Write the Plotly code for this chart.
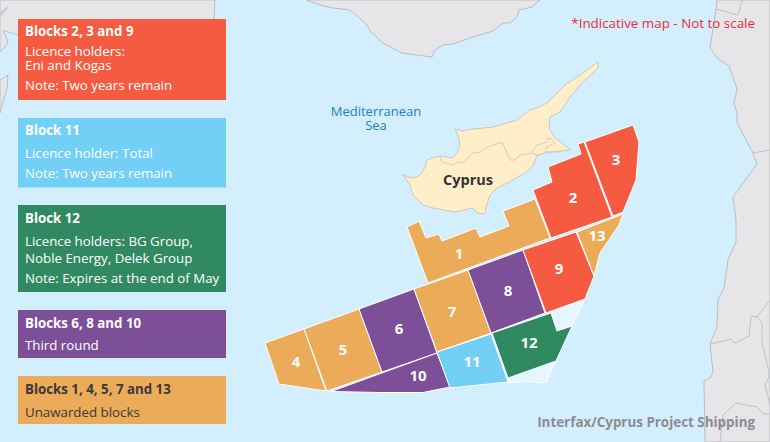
import plotly.graph_objects as go

# map outlines (x, y in image pixels)
land_turkey = [(306, 0), (320, 5), (333, 8), (350, 10), (358, 17), (367, 25), (370, 31), (383, 43), (402, 53),
               (432, 57), (435, 50), (443, 45), (453, 44), (473, 37), (493, 31), (503, 23), (510, 23), (517, 17),
               (519, 10), (532, 7), (540, 0)]
land_west = [(0, 0), (215, 0), (214, 19), (214, 30), (18, 35), (8, 32), (3.5, 30.5), (8, 42), (5, 47), (0, 52)]
land_west_small = [(0, 80), (8, 75), (7, 88), (4, 98), (0, 113)]
inlet_west = [(0, 13), (7.5, 7.5), (3, 13), (0, 16)]
land_east = [(717, 0), (716, 9), (710, 48), (718, 59), (729, 66), (737, 89), (734, 103), (737, 113), (737, 123),
             (753, 153), (757, 164), (733, 197), (736, 220), (736, 242), (728, 260), (724, 288), (718, 299),
             (717, 327), (710, 344), (713, 372), (711, 377), (704, 381), (705, 442), (770, 442), (770, 0)]
borders_east = [
    [(716, 9), (738, 15), (742, 0)],
    [(753, 153), (770, 150)],
    [(711, 344), (731, 339), (735, 343), (749, 336), (751, 316), (757, 317), (770, 300)],
    [(757, 317), (762, 323), (762, 343), (768, 367), (769, 377), (765, 385), (770, 405)],
    [(720, 442), (723, 415), (736, 403), (757, 407), (763, 414), (770, 414)],
]
cyprus = [(403, 174), (410, 178), (417, 177), (422, 173), (425, 167), (427, 160), (435, 157), (442, 156), (452, 158),
          (457, 153), (460, 145), (459, 138), (455, 129), (463, 131), (473, 129), (493, 127), (517, 120), (530, 110),
          (537, 108), (547, 103), (557, 93), (565, 85), (580, 75), (587, 70), (598, 62), (598, 68), (580, 85),
          (570, 97), (560, 112), (550, 117), (549, 128), (555, 138), (571, 150), (550, 152), (537, 155), (533, 166),
          (526, 172), (513, 180), (497, 188), (490, 195), (486, 207), (485, 214), (477, 213), (473, 208), (455, 212),
          (433, 208), (423, 205), (413, 195), (410, 185)]
cyprus_line = [(440, 157), (442, 162), (453, 165), (458, 162), (462, 163), (473, 153), (480, 152), (488, 147),
               (502, 142), (510, 160), (515, 160), (520, 155), (532, 153), (537, 155)]
cyprus_loop = [(532, 152), (537, 145), (547, 142), (548, 138), (553, 140), (555, 143), (547, 147), (545, 152), (560, 152)]

block_1 = [(407, 227), (419, 221), (426, 238), (439, 234), (442, 241), (476, 228), (480, 237), (509, 226), (503, 211),
           (535, 199), (550, 238), (428, 283)]
block_2 = [(533, 190), (552, 182), (548, 167), (581, 154), (578, 144), (584, 142), (612, 217), (551, 238)]
block_3 = [(585, 142), (633, 125), (639, 142), (636, 180), (623, 212), (613, 216)]
block_4 = [(265, 343), (304, 329), (326, 391), (279, 384)]
block_5 = [(304, 329), (359, 309), (382, 372), (327, 391)]
block_6 = [(359, 309), (414, 289), (437, 353), (382, 372)]
block_7 = [(414, 289), (468, 270), (491, 333), (437, 352)]
block_8 = [(468, 270), (523, 250), (545, 313), (491, 333)]
block_9 = [(523, 250), (576, 232), (594, 276), (585, 299), (546, 313)]
block_10 = [(331, 391.5), (382, 373), (437, 353), (450, 387), (423, 392.5), (380, 392.5)]
block_11 = [(437, 352), (491, 334), (508, 382), (450, 388)]
block_12 = [(492, 333), (551, 313), (557, 331), (572, 326), (556, 361), (508, 378)]
block_13 = [(577, 232), (623, 214), (619, 225), (600, 253), (594, 276)]
empty_north = [(552, 313), (585, 299), (572, 326), (557, 331)]
empty_south = [(508, 378), (556, 361), (548, 377), (547, 382), (538, 383), (527, 381), (508, 383)]

RED = "#F45B41"
BLUE = "#72CFF6"
GREEN = "#318962"
PURPLE = "#7D4F98"
ORANGE = "#EBAB58"

blocks = [block_1, block_2, block_3, block_4, block_5, block_6, block_7, block_8, block_9, block_10, block_11,
          block_12, block_13]
block_colors = [ORANGE, RED, RED, ORANGE, ORANGE, PURPLE, ORANGE, PURPLE, RED, PURPLE, BLUE, GREEN, ORANGE]

label_text = ["1", "2", "3", "4", "5", "6", "7", "8", "9", "10", "11", "12", "13"]
label_x = [459, 573, 616, 296, 343, 399, 452, 508, 559, 418, 472, 529, 597]
label_y = [255, 199, 161, 363, 351, 330, 313, 292, 270, 377, 363, 344, 237]

# key boxes: colour, top, bottom
key_boxes = [
    (RED, 19, 100),
    (BLUE, 118, 187.5),
    (GREEN, 205, 292),
    (PURPLE, 310, 358),
    (ORANGE, 376, 424),
]
key_light = ["<b>Blocks 2, 3 and 9</b>", "Licence holders:", "Eni and Kogas", "Note: Two years remain",
             "<b>Block 11</b>", "Licence holder: Total", "Note: Two years remain",
             "<b>Block 12</b>", "Licence holders: BG Group,", "Noble Energy, Delek Group",
             "Note: Expires at the end of May", "<b>Blocks 6, 8 and 10</b>", "Third round"]
key_light_y = [33, 53, 67, 87, 131.7, 154.7, 174.7, 219.7, 242.7, 259.7, 279.7, 324.7, 346.7]
key_dark = ["<b>Blocks 1, 4, 5, 7 and 13</b>", "Unawarded blocks"]
key_dark_y = [390.7, 413.7]

FONT = "Open Sans"
SEA = "#D3EFFE"
LAND = "#E6E6E8"
LAND_LINE = "#B9BDC1"


def area(points, fill, line, width=1.0):
    return go.Scatter(
        x=[p[0] for p in points] + [points[0][0]],
        y=[p[1] for p in points] + [points[0][1]],
        mode="lines",
        fill="toself",
        fillcolor=fill,
        line=dict(color=line, width=width),
        hoverinfo="skip",
        showlegend=False,
    )


def outline(points, color):
    return go.Scatter(
        x=[p[0] for p in points],
        y=[p[1] for p in points],
        mode="lines",
        line=dict(color=color, width=0.9),
        hoverinfo="skip",
        showlegend=False,
    )


def words(x, y, text, position, size, color):
    return go.Scatter(
        x=x,
        y=y,
        text=text,
        mode="text",
        textposition=position,
        textfont=dict(family=FONT, size=size, color=color),
        hoverinfo="skip",
        showlegend=False,
    )


fig = go.Figure()

# land around the sea
fig.add_trace(area(land_turkey, LAND, LAND_LINE))
fig.add_trace(area(land_west, LAND, LAND_LINE))
fig.add_trace(area(land_west_small, LAND, LAND_LINE))
fig.add_trace(area(inlet_west, SEA, LAND_LINE))
fig.add_trace(area(land_east, LAND, LAND_LINE))
for border in borders_east:
    fig.add_trace(outline(border, LAND_LINE))

# Cyprus
fig.add_trace(area(cyprus, "#FFEEC8", "#C9C8BE"))
fig.add_trace(outline(cyprus_line, "#C9C8BE"))
fig.add_trace(outline(cyprus_loop, "#C9C8BE"))

# offshore blocks
fig.add_trace(area(empty_north, "#E5F6FE", "white", 1.0))
fig.add_trace(area(empty_south, "#E5F6FE", "white", 1.0))
for block, color in zip(blocks, block_colors):
    fig.add_trace(area(block, color, "white", 1.0))

fig.add_trace(words(label_x, label_y, ["<b>%s</b>" % t for t in label_text], "middle center", 15, "white"))

# key boxes have to sit under their text, so they are filled traces too
for color, top, bottom in key_boxes:
    fig.add_trace(area([(18, top), (226, top), (226, bottom), (18, bottom)], color, color, 0))

fig.add_trace(words([25] * len(key_light), key_light_y, key_light, "middle right", 13.3, "white"))
fig.add_trace(words([25] * len(key_dark), key_dark_y, key_dark, "middle right", 13.3, "#3A3A3C"))

fig.add_trace(words([468], [181], ["<b>Cyprus</b>"], "middle center", 14.5, "#333336"))
fig.add_trace(words([376, 376], [112.7, 126.7], ["Mediterranean", "Sea"], "middle center", 13, "#1C7FC4"))
fig.add_trace(words([755], [24.7], ["*Indicative map - Not to scale"], "middle left", 13.4, "#EE2A3A"))
fig.add_trace(words([755], [423.7], ["<b>Interfax/Cyprus Project Shipping</b>"], "middle left", 13.4, "#8A8D90"))

fig.update_layout(
    width=770,
    height=442,
    margin=dict(l=0, r=0, t=0, b=0),
    plot_bgcolor=SEA,
    paper_bgcolor=SEA,
    xaxis=dict(range=[0, 770], visible=False, fixedrange=True),
    yaxis=dict(range=[442, 0], visible=False, fixedrange=True),
)

fig.write_html("out.html", config={"displayModeBar": False},
               post_script="document.body.style.margin = '0';")
